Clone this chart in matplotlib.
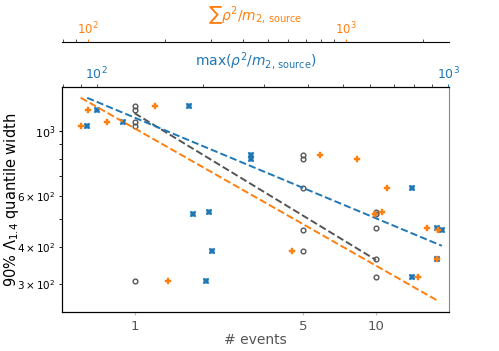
import matplotlib
matplotlib.use('Agg')
import matplotlib.pyplot as plt
import numpy as np
from matplotlib.ticker import FixedLocator, ScalarFormatter, NullLocator

# data: each row is one set of events
n_events = [1, 1, 1, 1, 1, 5, 5, 5, 5, 5, 10, 10, 10, 10, 10]
width = [1040, 1180, 1073, 1215, 308, 826, 801, 637, 459, 390, 530, 519, 466, 365, 318]
sum_snr = [94, 100, 119, 183, 204, 795, 1109, 1450, 2285, 617, 1379, 1299, 2072, 2253, 1911]
max_snr = [94, 100, 119, 183, 204, 275, 275, 788, 958, 213, 208, 188, 927, 927, 787]

# fixed-slope power-law fits (width = coef * x ** slope)
fit_slope = -0.5
fit_coef_events = 1146
fit_coef_sum = 12550
fit_coef_max = 12540

x_events_ticks = [1, 5, 10]

grey = '#555555'
c_sum = '#ff7f0e'
c_max = '#1f77b4'

plt.rcParams['xtick.major.size'] = 2.5
plt.rcParams['xtick.minor.size'] = 2.0
plt.rcParams['ytick.major.size'] = 2.5
plt.rcParams['ytick.minor.size'] = 2.0

fig = plt.figure(figsize=(4.99, 3.51), dpi=100)
ax = fig.add_axes([0.1242, 0.1111, 0.775, 0.641])
ax.set_xscale('log')
ax.set_yscale('log')

ax.plot(n_events, width, 'o', mfc='none', mec=grey, ms=3.4, mew=1.0, zorder=3)
xe = np.array([min(n_events), max(n_events)], dtype=float)
ax.plot(xe, fit_coef_events * xe ** fit_slope, '--', color=grey, lw=1.4, zorder=2)

ax.set_xlim(0.5, 20)
ax.set_ylim(241, 1408)
ax.xaxis.set_major_locator(FixedLocator(x_events_ticks))
ax.xaxis.set_major_formatter(ScalarFormatter())
ax.xaxis.set_minor_locator(NullLocator())
ax.tick_params(axis='x', which='major', colors='#bbbbbb', labelcolor=grey, labelsize=9.5, pad=3)
ax.tick_params(axis='y', which='major', labelsize=8, pad=2.5)
ax.tick_params(axis='y', which='minor', labelsize=7.5, pad=2.5)
ax.set_xlabel('# events', color=grey, fontsize=10)
ax.xaxis.set_label_coords(0.5, -0.093)
ax.set_ylabel(r'90% $\Lambda_{1.4}$ quantile width', fontsize=10.5)
ax.yaxis.set_label_coords(-0.107, 0.5)
ax.spines['right'].set_color('#888888')

# max SNR axis (top)
axb = ax.twiny()
axb.set_xscale('log')
axb.plot(max_snr, width, 'X', color=c_max, ms=4.4, mew=0.3, zorder=3)
xb = np.array([min(max_snr), max(max_snr)], dtype=float)
axb.plot(xb, fit_coef_max * xb ** fit_slope, '--', color=c_max, lw=1.4, zorder=2)
axb.set_xlim(79.7, 1002)
axb.tick_params(axis='x', which='major', colors=c_max, labelsize=9, pad=1)
axb.tick_params(axis='x', which='minor', colors='#333333')
axb.set_xlabel(r'max$(\rho^2/m_{2,\,\mathrm{source}})$', color=c_max, fontsize=10, labelpad=0)
axb.spines['right'].set_visible(False)

# summed SNR axis (offset top)
axo = ax.twiny()
axo.set_xscale('log')
axo.spines['top'].set_position(('axes', 1.2))
for s in ['left', 'right', 'bottom']:
    axo.spines[s].set_visible(False)
axo.plot(sum_snr, width, 'P', color=c_sum, ms=4.2, mew=0.3, zorder=3)
xo = np.array([min(sum_snr), max(sum_snr)], dtype=float)
axo.plot(xo, fit_coef_sum * xo ** fit_slope, '--', color=c_sum, lw=1.4, zorder=2)
axo.set_xlim(79.5, 2507)
axo.tick_params(axis='x', which='major', colors=c_sum, labelsize=8.5, pad=1)
axo.tick_params(axis='x', which='minor', colors='#333333')
axo.set_xlabel(r'$\sum\rho^2/m_{2,\,\mathrm{source}}$', color=c_sum, fontsize=10, labelpad=0)

fig.savefig('out.png', dpi=100)
